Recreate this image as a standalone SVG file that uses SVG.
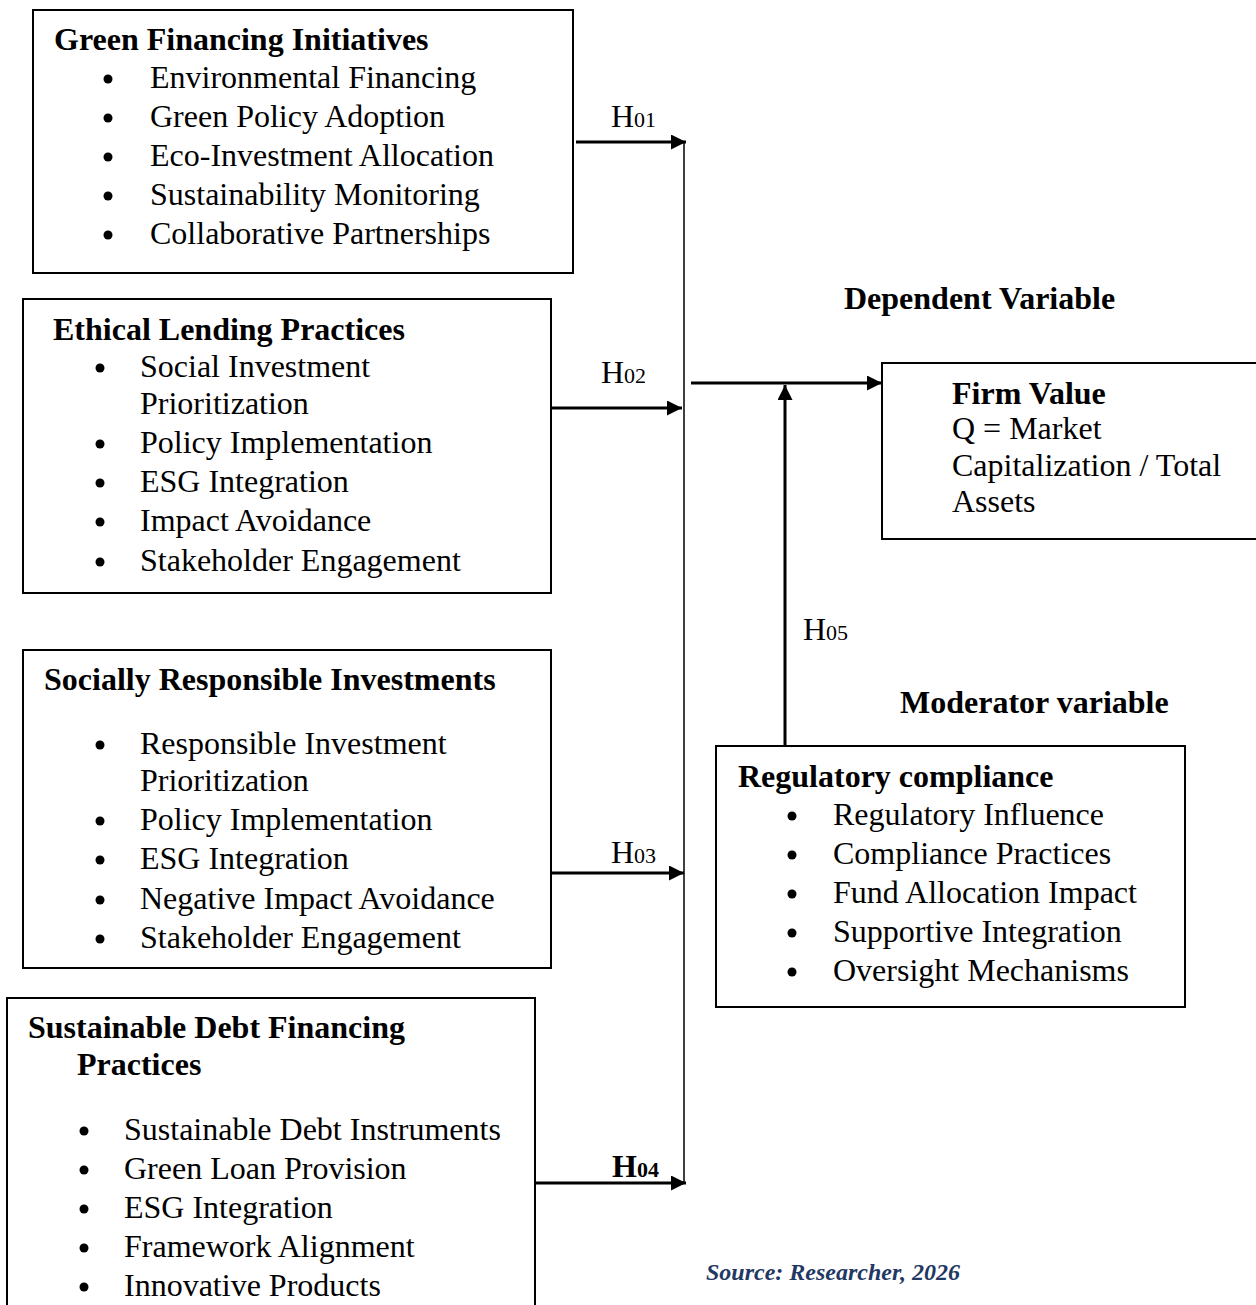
<svg xmlns="http://www.w3.org/2000/svg" width="1256" height="1305" viewBox="0 0 1256 1305">
<defs>
<marker id="ah" viewBox="0 0 10 10" refX="10" refY="5" markerWidth="5" markerHeight="5" markerUnits="strokeWidth" orient="auto">
<path d="M0,0 L10,5 L0,10 z" fill="#000"/>
</marker>
<style>
.box{fill:#fff;stroke:#000;stroke-width:2}
.t{font-family:"Liberation Serif","Times New Roman",serif;font-size:32px;fill:#000}
.b{font-weight:bold}
.sub{font-size:22px}
.dot{fill:#000}
.arr{stroke:#000;stroke-width:3;fill:none;marker-end:url(#ah)}
.ln{stroke:#000;stroke-width:1.5;fill:none}
.src{font-family:"Liberation Serif","Times New Roman",serif;font-size:24px;font-style:italic;font-weight:bold;fill:#1F3864}
</style>
</defs>
<rect width="1256" height="1305" fill="#fff"/>

<g id="connectors">
<line class="ln" x1="684" y1="142" x2="684" y2="1183"/>
<line class="arr" x1="576" y1="142" x2="686" y2="142"/>
<line class="arr" x1="551" y1="408" x2="682" y2="408"/>
<line class="arr" x1="551" y1="873" x2="684" y2="873"/>
<line class="arr" x1="535" y1="1183" x2="686" y2="1183"/>
<line class="arr" x1="691" y1="383" x2="882" y2="383"/>
<line class="arr" x1="785" y1="746" x2="785" y2="385"/>
<text class="t" x="611" y="127">H<tspan class="sub">01</tspan></text>
<text class="t" x="601" y="383">H<tspan class="sub">02</tspan></text>
<text class="t" x="611" y="863">H<tspan class="sub">03</tspan></text>
<text class="t b" x="612" y="1177">H<tspan class="sub">04</tspan></text>
<text class="t" x="803" y="640">H<tspan class="sub">05</tspan></text>
</g>

<g id="green-financing">
<rect class="box" x="33" y="10" width="540" height="263"/>
<text class="t b" x="54" y="50">Green Financing Initiatives</text>
<circle class="dot" cx="108" cy="79" r="4.5"/><text class="t" x="150" y="88">Environmental Financing</text>
<circle class="dot" cx="108" cy="118" r="4.5"/><text class="t" x="150" y="127">Green Policy Adoption</text>
<circle class="dot" cx="108" cy="157" r="4.5"/><text class="t" x="150" y="166">Eco-Investment Allocation</text>
<circle class="dot" cx="108" cy="196" r="4.5"/><text class="t" x="150" y="205">Sustainability Monitoring</text>
<circle class="dot" cx="108" cy="235" r="4.5"/><text class="t" x="150" y="244">Collaborative Partnerships</text>
</g>

<g id="ethical-lending">
<rect class="box" x="23" y="299" width="528" height="294"/>
<text class="t b" x="53" y="340">Ethical Lending Practices</text>
<circle class="dot" cx="100" cy="368" r="4.5"/><text class="t" x="140" y="377">Social Investment</text>
<text class="t" x="140" y="414">Prioritization</text>
<circle class="dot" cx="100" cy="444" r="4.5"/><text class="t" x="140" y="453">Policy Implementation</text>
<circle class="dot" cx="100" cy="483" r="4.5"/><text class="t" x="140" y="492">ESG Integration</text>
<circle class="dot" cx="100" cy="522" r="4.5"/><text class="t" x="140" y="531">Impact Avoidance</text>
<circle class="dot" cx="100" cy="562" r="4.5"/><text class="t" x="140" y="571">Stakeholder Engagement</text>
</g>

<g id="socially-responsible">
<rect class="box" x="23" y="650" width="528" height="318"/>
<text class="t b" x="44" y="690">Socially Responsible Investments</text>
<circle class="dot" cx="100" cy="745" r="4.5"/><text class="t" x="140" y="754">Responsible Investment</text>
<text class="t" x="140" y="791">Prioritization</text>
<circle class="dot" cx="100" cy="821" r="4.5"/><text class="t" x="140" y="830">Policy Implementation</text>
<circle class="dot" cx="100" cy="860" r="4.5"/><text class="t" x="140" y="869">ESG Integration</text>
<circle class="dot" cx="100" cy="900" r="4.5"/><text class="t" x="140" y="909">Negative Impact Avoidance</text>
<circle class="dot" cx="100" cy="939" r="4.5"/><text class="t" x="140" y="948">Stakeholder Engagement</text>
</g>

<g id="sustainable-debt">
<rect class="box" x="7" y="998" width="528" height="320"/>
<text class="t b" x="28" y="1038">Sustainable Debt Financing</text>
<text class="t b" x="77" y="1075">Practices</text>
<circle class="dot" cx="84" cy="1131" r="4.5"/><text class="t" x="124" y="1140">Sustainable Debt Instruments</text>
<circle class="dot" cx="84" cy="1170" r="4.5"/><text class="t" x="124" y="1179">Green Loan Provision</text>
<circle class="dot" cx="84" cy="1209" r="4.5"/><text class="t" x="124" y="1218">ESG Integration</text>
<circle class="dot" cx="84" cy="1248" r="4.5"/><text class="t" x="124" y="1257">Framework Alignment</text>
<circle class="dot" cx="84" cy="1287" r="4.5"/><text class="t" x="124" y="1296">Innovative Products</text>
</g>

<g id="dependent-label">
<text class="t b" x="844" y="309">Dependent Variable</text>
</g>

<g id="firm-value">
<rect class="box" x="882" y="363" width="390" height="176"/>
<text class="t b" x="952" y="404">Firm Value</text>
<text class="t" x="952" y="439">Q = Market</text>
<text class="t" x="952" y="476">Capitalization / Total</text>
<text class="t" x="952" y="512">Assets</text>
</g>

<g id="moderator-label">
<text class="t b" x="900" y="713">Moderator variable</text>
</g>

<g id="regulatory-compliance">
<rect class="box" x="716" y="746" width="469" height="261"/>
<text class="t b" x="738" y="787">Regulatory compliance</text>
<circle class="dot" cx="792" cy="816" r="4.5"/><text class="t" x="833" y="825">Regulatory Influence</text>
<circle class="dot" cx="792" cy="855" r="4.5"/><text class="t" x="833" y="864">Compliance Practices</text>
<circle class="dot" cx="792" cy="894" r="4.5"/><text class="t" x="833" y="903">Fund Allocation Impact</text>
<circle class="dot" cx="792" cy="933" r="4.5"/><text class="t" x="833" y="942">Supportive Integration</text>
<circle class="dot" cx="792" cy="972" r="4.5"/><text class="t" x="833" y="981">Oversight Mechanisms</text>
</g>

<g id="source">
<text class="src" x="706" y="1280">Source: Researcher, 2026</text>
</g>
</svg>
